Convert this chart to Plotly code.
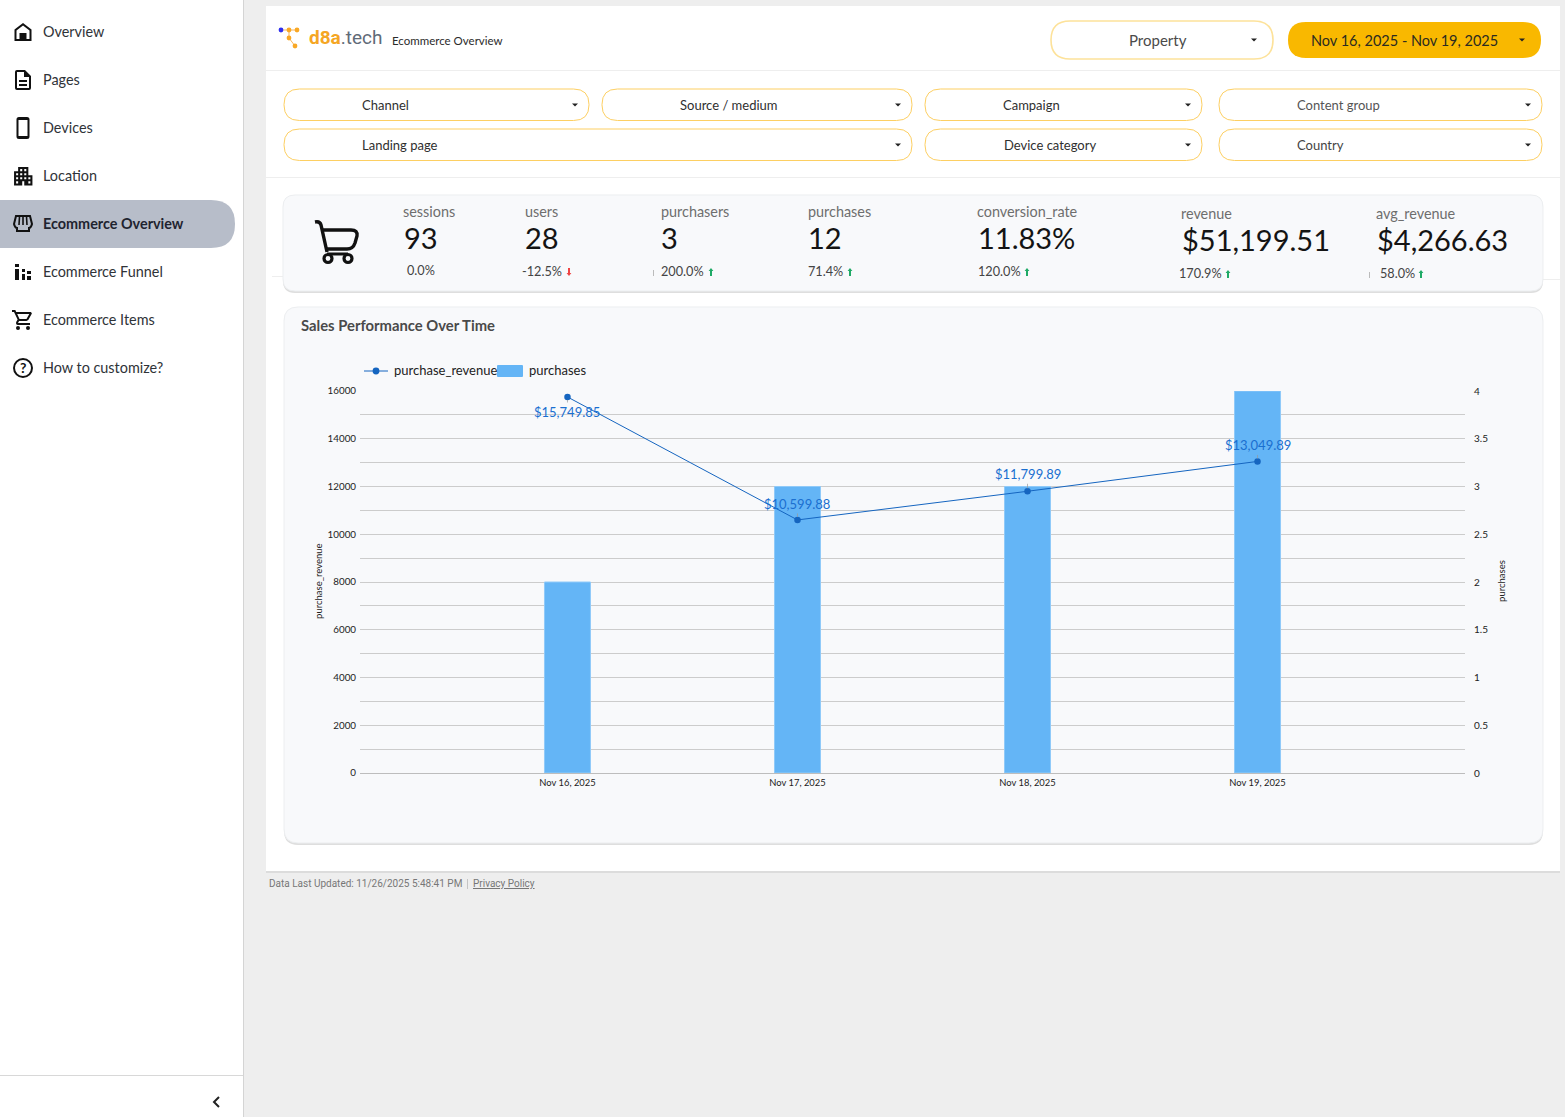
import re

import plotly.graph_objects as go

W, H = 1565, 1117
FONT = "Lato"
GOLD = "#fdcf62"

# chart data
dates = ["Nov 16, 2025", "Nov 17, 2025", "Nov 18, 2025", "Nov 19, 2025"]
purchase_revenue = [15749.85, 10599.88, 11799.89, 13049.89]
purchases = [2, 3, 3, 4]
revenue_labels = ["$15,749.85", "$10,599.88", "$11,799.89", "$13,049.89"]

# scorecards
kpi_names = ["sessions", "users", "purchasers", "purchases", "conversion_rate", "revenue", "avg_revenue"]
kpi_values = ["93", "28", "3", "12", "11.83%", "$51,199.51", "$4,266.63"]
kpi_deltas = ["0.0%", "-12.5%", "200.0%", "71.4%", "120.0%", "170.9%", "58.0%"]
kpi_trend = [0, -1, 1, 1, 1, 1, 1]

# navigation and filters
nav_items = ["Overview", "Pages", "Devices", "Location", "Ecommerce Overview",
             "Ecommerce Funnel", "Ecommerce Items", "How to customize?"]
filter_names = ["Channel", "Source / medium", "Campaign", "Content group",
                "Landing page", "Device category", "Country"]


def sx(x):
    return x / W


def sy(y):
    return 1 - y / H


def to_paper(d, ox=0, oy=0, s=1):
    # path written in page pixels (absolute commands only) -> paper coordinates
    out = []
    toks = re.findall(r"[MLHVQZ]|-?\d*\.?\d+", d)
    i = 0
    while i < len(toks):
        c = toks[i]
        i += 1
        if c == "Z":
            out.append("Z")
        elif c == "H":
            out.append(f"H{sx(ox + float(toks[i]) * s):.5f}")
            i += 1
        elif c == "V":
            out.append(f"V{sy(oy + float(toks[i]) * s):.5f}")
            i += 1
        else:
            n = 2 if c == "Q" else 1
            pts = []
            for _ in range(n):
                pts.append(f"{sx(ox + float(toks[i]) * s):.5f},{sy(oy + float(toks[i + 1]) * s):.5f}")
                i += 2
            out.append(c + " ".join(pts))
    return " ".join(out)


shapes = []
notes = []


def add_path(d, fill="#111111", line=None, lw=0, **kw):
    shapes.append(dict(type="path", path=to_paper(d, **kw), xref="paper", yref="paper", layer="below",
                       fillcolor=fill, line=dict(color=line or "rgba(0,0,0,0)", width=lw)))


def rr(x0, y0, x1, y1, r, fill, line=None, lw=0):
    add_path(f"M{x0 + r} {y0} H{x1 - r} Q{x1} {y0} {x1} {y0 + r} V{y1 - r} Q{x1} {y1} {x1 - r} {y1} "
             f"H{x0 + r} Q{x0} {y1} {x0} {y1 - r} V{y0 + r} Q{x0} {y0} {x0 + r} {y0} Z", fill, line, lw)


def rect(x0, y0, x1, y1, fill):
    shapes.append(dict(type="rect", x0=sx(x0), x1=sx(x1), y0=sy(y0), y1=sy(y1), xref="paper", yref="paper",
                       layer="below", fillcolor=fill, line=dict(width=0)))


def circle(cx, cy, r, fill="#111111", line=None, lw=0):
    shapes.append(dict(type="circle", x0=sx(cx - r), x1=sx(cx + r), y0=sy(cy - r), y1=sy(cy + r),
                       xref="paper", yref="paper", layer="below", fillcolor=fill,
                       line=dict(color=line or "rgba(0,0,0,0)", width=lw)))


def label(x, y, text, size=14, color="#333333", anchor="left", family=FONT, angle=0):
    # annotations sit about a pixel right and low of the asked spot
    if anchor == "left":
        x -= 1
    notes.append(dict(x=sx(x), y=sy(y - 0.6), xref="paper", yref="paper", text=text, showarrow=False,
                      xanchor=anchor, yanchor="middle", textangle=angle, borderpad=0,
                      font=dict(family=family, size=size, color=color)))


def caret(x, y, color="#222222"):
    add_path(f"M{x - 3} {y - 1.5} H{x + 3} L{x} {y + 1.5} Z", color)


# page frame
rect(0, 0, 243, H, "#ffffff")
rect(243, 0, 244, H, "#d4d4d4")
rect(0, 1075, 243, 1076, "#d8d8d8")
add_path("M219 1097 L214 1102 L219 1107", "rgba(0,0,0,0)", "#222222", 2)
rect(266, 871, 1560, 873, "#dcdcdc")
rect(266, 6, 1560, 871, "#ffffff")
rect(266, 70, 1560, 71, "#eeeeee")
rect(266, 177, 1560, 178, "#eeeeee")
rect(272, 276, 284, 277, "#eeeeee")
rect(1543, 279, 1560, 280, "#eeeeee")

# sidebar
add_path("M0 200 H211 Q235 200 235 224 Q235 248 211 248 H0 Z", "#b7bdc9")
nav_y = [32, 80, 128, 176, 224, 272, 320, 368]
for name, y in zip(nav_items, nav_y):
    selected = name == "Ecommerce Overview"
    label(43, y, f"<b>{name}</b>" if selected else name, 14.4, "#1f2430" if selected else "#2f3338")

add_path("M12 3 L3.5 9.5 V21 H20.5 V9.5 Z M12 5.6 L18.5 10.5 V19 H15.5 V13 H8.5 V19 H5.5 V10.5 Z", ox=11, oy=20)
add_path("M14 2 H6 Q4 2 4 4 V20 Q4 22 6 22 H18 Q20 22 20 20 V8 Z M6 4 H13 V9 H18 V20 H6 Z "
         "M8 12 H16 V14 H8 Z M8 16 H16 V18 H8 Z", ox=11, oy=68)
add_path("M8 1 H16 Q18.5 1 18.5 3.5 V20.5 Q18.5 23 16 23 H8 Q5.5 23 5.5 20.5 V3.5 Q5.5 1 8 1 Z "
         "M7.5 4 V20 H16.5 V4 Z", ox=11, oy=116)
add_path("M17 11 V3 H7 V7 H3 V21 H11 V17 H13 V21 H21 V11 Z M7 19 H5 V17 H7 Z M7 15 H5 V13 H7 Z M7 11 H5 V9 H7 Z "
         "M11 15 H9 V13 H11 Z M11 11 H9 V9 H11 Z M11 7 H9 V5 H11 Z M15 15 H13 V13 H15 Z M15 11 H13 V9 H15 Z "
         "M15 7 H13 V5 H15 Z M19 19 H17 V17 H19 Z M19 15 H17 V13 H19 Z", ox=11, oy=164, s=1.02)
add_path("M16 216 H30 L32 224 Q31 228 29 228 V231 H17 V228 Q15 228 14 224 Z", "rgba(0,0,0,0)", "#111111", 2)
add_path("M19.5 216.5 L19 225 M23 216.5 V225 M26.5 216.5 L27 225", "rgba(0,0,0,0)", "#111111", 1.6)
add_path("M15 264 H19 V267 H15 Z M15 269 H19 V280 H15 Z M22 269 H25 V272 H22 Z M22 274 H25 V280 H22 Z "
         "M27 271 H31 V274 H27 Z M27 276 H31 V280 H27 Z")
add_path("M15.5 13 L17.3 12 L20.9 5.5 L20 4 H5.2 L4.3 2 H1 V4 H3 L6.6 11.6 L5.2 14 Q4.5 17 7 17 H19 V15 H7 L8.1 13 Z "
         "M6.2 6 H18.3 L15.5 11 H8.5 Z", ox=11, oy=308)
circle(18, 328, 2)
circle(28, 328, 2)
circle(23, 368, 9, "rgba(0,0,0,0)", "#111111", 2)
label(23, 368, "<b>?</b>", 14, "#111111", "center")

# header
add_path("M281 30 H297 M289 30 V38 M289 38 L295 46", "rgba(0,0,0,0)", "#f9b65c", 1)
circle(281, 30, 2.4, "#2f2ff0")
for cx, cy in [(289, 30), (297, 30), (289, 38), (295, 46)]:
    circle(cx, cy, 2.4, "#f9a825")
label(309, 38, '<b><span style="color:#f5a623">d8a</span></b><span style="color:#5f6b78">.tech</span>',
      19, "#5f6b78", family="Roboto")
label(392, 41, "Ecommerce Overview", 11.5, "#2b2b2b")

rr(1051, 21, 1273, 59, 19, "#ffffff", "#fde29a", 1.6)
label(1158, 41, "Property", 15, "#4a4a4a", "center")
caret(1254, 40)
rr(1288, 22, 1541, 58, 18, "#f9b800")
label(1311, 41, "Nov 16, 2025 - Nov 19, 2025", 14.5, "#2b2b20")
caret(1522, 40)

# filter row, same order as filter_names
filter_x0 = [284, 602, 925, 1219, 284, 925, 1219]
filter_x1 = [589, 912, 1202, 1542, 912, 1202, 1542]
filter_y = [105, 105, 105, 105, 145, 145, 145]
filter_text_x = [362, 680, 1003, 1297, 362, 1004, 1297]
filter_colors = ["#2f2f2f", "#2f2f2f", "#2f2f2f", "#555555", "#2f2f2f", "#2f2f2f", "#444444"]
for name, x0, x1, y, tx, col in zip(filter_names, filter_x0, filter_x1, filter_y, filter_text_x, filter_colors):
    rr(x0, y - 16, x1, y + 15.5, 15.5, "#ffffff", GOLD, 1)
    label(tx, y + 1, name, 13, col)
    caret(x1 - 14, y)

# scorecards
rr(283, 197, 1543, 293, 12, "#dedede")
rr(283, 195, 1543, 291, 12, "#f8f9fb", "#eceef0", 1)
add_path("M315 222 Q320 221 321 225 L327 252", "rgba(0,0,0,0)", "#111111", 3.4)
add_path("M323 230 H351 Q358 230 357 236 L355 243 Q353 249 347 249 H327", "rgba(0,0,0,0)", "#111111", 3.4)
add_path("M327 254 H348", "rgba(0,0,0,0)", "#111111", 3)
circle(328, 258.5, 4, "#f8f9fb", "#111111", 3.2)
circle(348, 258.5, 4, "#f8f9fb", "#111111", 3.2)

kpi_name_x = [403, 525, 661, 808, 977, 1181, 1376]
kpi_value_x = [404, 525, 661, 808, 978, 1182, 1377]
kpi_delta_x = [407, 522, 661, 808, 978, 1179, 1380]
kpi_arrow_x = [None, 569, 711, 850, 1027, 1228, 1421]
kpi_name_y = [212, 212, 212, 212, 212, 214, 214]
kpi_value_y = [238, 238, 238, 238, 238, 240, 240]
kpi_delta_y = [271, 272, 272, 272, 272, 274, 274]
for i, name in enumerate(kpi_names):
    label(kpi_name_x[i], kpi_name_y[i], name, 14.4, "#6e6e6e")
    label(kpi_value_x[i], kpi_value_y[i], kpi_values[i], 29, "#141414")
    label(kpi_delta_x[i], kpi_delta_y[i], kpi_deltas[i], 12.7, "#444444")
    if kpi_trend[i]:
        ax, ay = kpi_arrow_x[i], kpi_delta_y[i]
        if kpi_trend[i] > 0:
            add_path(f"M{ax} {ay - 4} L{ax + 2.4} {ay - 1} H{ax + 1} V{ay + 4} H{ax - 1} V{ay - 1} H{ax - 2.4} Z",
                     "#1faa66")
        else:
            add_path(f"M{ax} {ay + 4} L{ax + 2.4} {ay + 1} H{ax + 1} V{ay - 4} H{ax - 1} V{ay + 1} H{ax - 2.4} Z",
                     "#ef4444")
rect(653, 270, 654, 276, "#bbbbbb")
rect(1369, 272, 1370, 278, "#bbbbbb")

# chart card
rr(284, 309, 1543, 845, 14, "#dedede")
rr(284, 307, 1543, 843, 14, "#f8f9fb", "#eceef0", 1)
label(301, 326, "<b>Sales Performance Over Time</b>", 14.8, "#4a4a4a")

# legend
add_path("M364 371 H388", "rgba(0,0,0,0)", "#1565c0", 1)
circle(376, 371, 3.4, "#1565c0")
label(394, 371, "purchase_revenue", 13, "#222222")
rr(497, 365, 523, 377, 1, "#64b5f6")
label(529, 371, "purchases", 13, "#222222")

# axis titles
label(318.5, 582, "purchase_revenue", 9.5, "#222222", "center", angle=-90)
label(1501.5, 582, "purchases", 9.5, "#222222", "center", angle=-90)

# data labels with their small leader lines
label_offsets = [15, -16, -17, -16]
for d, v, t, off in zip(dates, purchase_revenue, revenue_labels, label_offsets):
    notes.append(dict(x=d, y=v, xref="x", yref="y2", text=t, showarrow=True, ax=0, ay=off, arrowhead=0,
                      arrowwidth=0.7, arrowcolor="#9a9a9a", standoff=3,
                      font=dict(family=FONT, size=13, color="#1a6fd0")))

# footer
label(269, 884, "Data Last Updated: 11/26/2025 5:48:41 PM", 10, "#777777", family="Roboto")
rect(467, 879, 468, 889, "#c4c4c4")
label(473, 884, "<u>Privacy Policy</u>", 10, "#777777", family="Roboto")

fig = go.Figure()
fig.add_trace(go.Bar(x=dates, y=purchases, name="purchases", width=0.2, yaxis="y",
                     marker=dict(color="#64b5f6", line=dict(color="#90caf9", width=1))))
fig.add_trace(go.Scatter(x=dates, y=purchase_revenue, name="purchase_revenue", mode="lines+markers", yaxis="y2",
                         line=dict(color="#1565c0", width=1),
                         marker=dict(color="#1565c0", size=6.5)))

fig.update_layout(
    width=W, height=H, margin=dict(l=0, r=0, t=0, b=0, pad=0), autosize=False,
    paper_bgcolor="#eeeeee", plot_bgcolor="rgba(0,0,0,0)",
    showlegend=False, bargap=0.8, font=dict(family=FONT, color="#222222"),
    shapes=shapes, annotations=notes,
    xaxis=dict(domain=[sx(360), sx(1465)], type="category", range=[-0.902, 3.902], anchor="y", automargin=False,
               showgrid=False, showline=False, zeroline=False, ticks="outside", ticklen=1,
               tickcolor="rgba(0,0,0,0)", tickfont=dict(size=9.4)),
    yaxis=dict(domain=[sy(773), sy(391)], range=[0, 4], side="right", anchor="x", dtick=0.5, automargin=False,
               showgrid=True, gridcolor="#cccccc", gridwidth=1, zeroline=True, zerolinecolor="#bdbdbd",
               zerolinewidth=1, showline=False, ticks="outside", ticklen=6, tickcolor="rgba(0,0,0,0)",
               tickfont=dict(size=10),
               minor=dict(dtick=0.25, showgrid=True, gridcolor="#cccccc", gridwidth=1)),
    yaxis2=dict(range=[0, 16000], overlaying="y", side="left", anchor="x", dtick=2000, showgrid=False,
                automargin=False, tickformat="d", zeroline=False, showline=False, ticks="outside", ticklen=1,
                tickcolor="rgba(0,0,0,0)", tickfont=dict(size=9.8)),
)

fig.write_html("out.html", config=dict(displayModeBar=False),
               post_script="document.body.style.margin='0';document.body.style.overflow='hidden';")
